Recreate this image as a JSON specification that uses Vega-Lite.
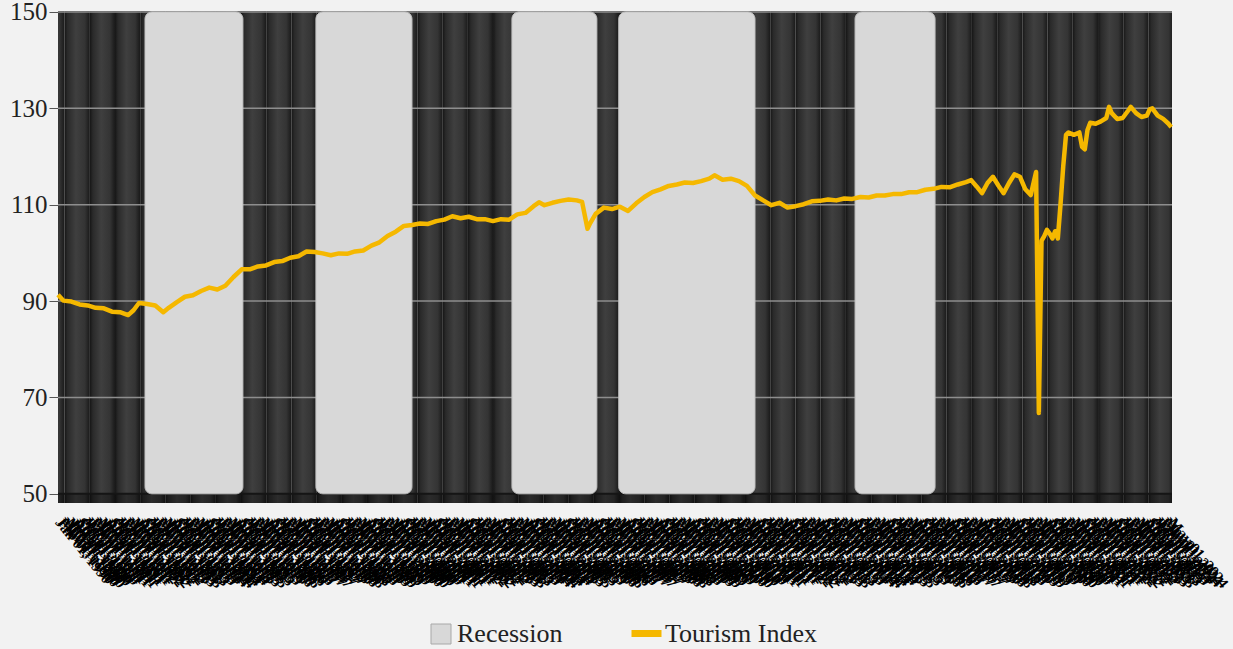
{
  "$schema": "https://vega.github.io/schema/vega-lite/v6.json",
  "width": 1114,
  "height": 492,
  "autosize": {"type": "none"},
  "padding": {"left": 58, "top": 11, "right": 61, "bottom": 146},
  "background": "#f2f2f2",
  "config": {
    "view": {"stroke": null},
    "axis": {"grid": false, "domain": false, "title": null}
  },
  "datasets": {
    "stripes": [
      {"a": "1989-06-06", "b": "1990-03-16"}, {"a": "1990-03-16", "b": "1990-12-26"},
      {"a": "1990-12-26", "b": "1991-10-05"}, {"a": "1991-10-05", "b": "1992-07-15"},
      {"a": "1992-07-15", "b": "1993-04-25"}, {"a": "1993-04-25", "b": "1994-02-04"},
      {"a": "1994-02-04", "b": "1994-11-14"}, {"a": "1994-11-14", "b": "1995-08-24"},
      {"a": "1995-08-24", "b": "1996-06-04"}, {"a": "1996-06-04", "b": "1997-03-14"},
      {"a": "1997-03-14", "b": "1997-12-24"}, {"a": "1997-12-24", "b": "1998-10-04"},
      {"a": "1998-10-04", "b": "1999-07-13"}, {"a": "1999-07-13", "b": "2000-04-23"},
      {"a": "2000-04-23", "b": "2001-02-03"}, {"a": "2001-02-03", "b": "2001-11-13"},
      {"a": "2001-11-13", "b": "2002-08-23"}, {"a": "2002-08-23", "b": "2003-06-02"},
      {"a": "2003-06-02", "b": "2004-03-12"}, {"a": "2004-03-12", "b": "2004-12-22"},
      {"a": "2004-12-22", "b": "2005-10-02"}, {"a": "2005-10-02", "b": "2006-07-12"},
      {"a": "2006-07-12", "b": "2007-04-21"}, {"a": "2007-04-21", "b": "2008-02-01"},
      {"a": "2008-02-01", "b": "2008-11-11"}, {"a": "2008-11-11", "b": "2009-08-21"},
      {"a": "2009-08-21", "b": "2010-06-01"}, {"a": "2010-06-01", "b": "2011-03-10"},
      {"a": "2011-03-10", "b": "2011-12-20"}, {"a": "2011-12-20", "b": "2012-09-30"},
      {"a": "2012-09-30", "b": "2013-07-10"}, {"a": "2013-07-10", "b": "2014-04-20"},
      {"a": "2014-04-20", "b": "2015-01-30"}, {"a": "2015-01-30", "b": "2015-11-09"},
      {"a": "2015-11-09", "b": "2016-08-19"}, {"a": "2016-08-19", "b": "2017-05-29"},
      {"a": "2017-05-29", "b": "2018-03-09"}, {"a": "2018-03-09", "b": "2018-12-19"},
      {"a": "2018-12-19", "b": "2019-09-29"}, {"a": "2019-09-29", "b": "2020-07-08"},
      {"a": "2020-07-08", "b": "2021-04-18"}, {"a": "2021-04-18", "b": "2022-01-28"},
      {"a": "2022-01-28", "b": "2022-11-08"}, {"a": "2022-11-08", "b": "2023-08-18"},
      {"a": "2023-08-18", "b": "2024-05-28"}
    ],
    "grid": [{"g": 70}, {"g": 90}, {"g": 110}, {"g": 130}, {"g": 150}],
    "base": [{"g": 50}],
    "recessions": [
      {"s": "1992-09-07", "e": "1995-09-15"},
      {"s": "1997-12-15", "e": "2000-12-01"},
      {"s": "2004-01-01", "e": "2006-08-15"},
      {"s": "2007-04-18", "e": "2011-07-01"},
      {"s": "2014-08-01", "e": "2017-01-18"}
    ],
    "index": [
      {"d": "1990-01-01", "v": 91.3}, {"d": "1990-03-01", "v": 90.1}, {"d": "1990-06-01", "v": 89.9},
      {"d": "1990-09-01", "v": 89.3}, {"d": "1990-12-01", "v": 89.1}, {"d": "1991-03-01", "v": 88.6},
      {"d": "1991-06-01", "v": 88.5}, {"d": "1991-09-01", "v": 87.8}, {"d": "1991-12-01", "v": 87.7},
      {"d": "1992-03-01", "v": 87.1}, {"d": "1992-05-01", "v": 88.1}, {"d": "1992-07-01", "v": 89.6},
      {"d": "1992-10-01", "v": 89.4}, {"d": "1993-01-01", "v": 89.1}, {"d": "1993-04-01", "v": 87.7},
      {"d": "1993-06-01", "v": 88.6}, {"d": "1993-09-01", "v": 89.8}, {"d": "1993-12-01", "v": 90.9},
      {"d": "1994-03-01", "v": 91.2}, {"d": "1994-06-01", "v": 92.1}, {"d": "1994-09-01", "v": 92.8},
      {"d": "1994-12-01", "v": 92.4}, {"d": "1995-03-01", "v": 93.2}, {"d": "1995-06-01", "v": 95.0},
      {"d": "1995-09-01", "v": 96.6}, {"d": "1995-12-01", "v": 96.6}, {"d": "1996-03-01", "v": 97.2},
      {"d": "1996-06-01", "v": 97.4}, {"d": "1996-09-01", "v": 98.1}, {"d": "1996-12-01", "v": 98.3},
      {"d": "1997-03-01", "v": 99.0}, {"d": "1997-06-01", "v": 99.3}, {"d": "1997-09-01", "v": 100.3},
      {"d": "1997-12-01", "v": 100.2}, {"d": "1998-03-01", "v": 99.9}, {"d": "1998-06-01", "v": 99.5},
      {"d": "1998-09-01", "v": 99.9}, {"d": "1998-12-01", "v": 99.8}, {"d": "1999-03-01", "v": 100.3},
      {"d": "1999-06-01", "v": 100.5}, {"d": "1999-09-01", "v": 101.5}, {"d": "1999-12-01", "v": 102.2},
      {"d": "2000-03-01", "v": 103.5}, {"d": "2000-06-01", "v": 104.4}, {"d": "2000-09-01", "v": 105.6},
      {"d": "2000-12-01", "v": 105.8}, {"d": "2001-03-01", "v": 106.1}, {"d": "2001-06-01", "v": 106.0},
      {"d": "2001-09-01", "v": 106.6}, {"d": "2001-12-01", "v": 106.9}, {"d": "2002-03-01", "v": 107.6},
      {"d": "2002-06-01", "v": 107.2}, {"d": "2002-09-01", "v": 107.5}, {"d": "2002-12-01", "v": 107.0},
      {"d": "2003-03-01", "v": 107.0}, {"d": "2003-06-01", "v": 106.6}, {"d": "2003-09-01", "v": 107.0},
      {"d": "2003-12-01", "v": 106.9}, {"d": "2004-03-01", "v": 108.0}, {"d": "2004-06-01", "v": 108.3},
      {"d": "2004-09-01", "v": 109.7}, {"d": "2004-11-01", "v": 110.5}, {"d": "2005-01-01", "v": 109.9},
      {"d": "2005-04-01", "v": 110.4}, {"d": "2005-07-01", "v": 110.8}, {"d": "2005-10-01", "v": 111.1},
      {"d": "2006-01-01", "v": 110.9}, {"d": "2006-03-01", "v": 110.6}, {"d": "2006-05-01", "v": 105.0},
      {"d": "2006-06-01", "v": 106.2}, {"d": "2006-08-01", "v": 108.1}, {"d": "2006-11-01", "v": 109.4},
      {"d": "2007-02-01", "v": 109.1}, {"d": "2007-05-01", "v": 109.6}, {"d": "2007-08-01", "v": 108.7},
      {"d": "2007-11-01", "v": 110.3}, {"d": "2008-02-01", "v": 111.6}, {"d": "2008-05-01", "v": 112.6},
      {"d": "2008-08-01", "v": 113.2}, {"d": "2008-11-01", "v": 113.9}, {"d": "2009-02-01", "v": 114.2},
      {"d": "2009-05-01", "v": 114.6}, {"d": "2009-08-01", "v": 114.5}, {"d": "2009-11-01", "v": 114.9},
      {"d": "2010-02-01", "v": 115.4}, {"d": "2010-04-01", "v": 116.1}, {"d": "2010-07-01", "v": 115.2},
      {"d": "2010-10-01", "v": 115.4}, {"d": "2011-01-01", "v": 114.9}, {"d": "2011-04-01", "v": 113.9},
      {"d": "2011-07-01", "v": 111.9}, {"d": "2011-10-01", "v": 110.9}, {"d": "2012-01-01", "v": 109.9},
      {"d": "2012-04-01", "v": 110.4}, {"d": "2012-07-01", "v": 109.4}, {"d": "2012-10-01", "v": 109.7},
      {"d": "2013-01-01", "v": 110.1}, {"d": "2013-04-01", "v": 110.7}, {"d": "2013-07-01", "v": 110.8},
      {"d": "2013-10-01", "v": 111.1}, {"d": "2014-01-01", "v": 110.9}, {"d": "2014-04-01", "v": 111.3},
      {"d": "2014-07-01", "v": 111.2}, {"d": "2014-10-01", "v": 111.6}, {"d": "2015-01-01", "v": 111.5},
      {"d": "2015-04-01", "v": 111.9}, {"d": "2015-07-01", "v": 111.9}, {"d": "2015-10-01", "v": 112.2},
      {"d": "2016-01-01", "v": 112.2}, {"d": "2016-04-01", "v": 112.6}, {"d": "2016-07-01", "v": 112.6},
      {"d": "2016-10-01", "v": 113.1}, {"d": "2017-01-01", "v": 113.3}, {"d": "2017-04-01", "v": 113.7},
      {"d": "2017-07-01", "v": 113.6}, {"d": "2017-10-01", "v": 114.2}, {"d": "2018-01-01", "v": 114.7},
      {"d": "2018-03-01", "v": 115.1}, {"d": "2018-05-01", "v": 113.8}, {"d": "2018-07-01", "v": 112.4},
      {"d": "2018-09-01", "v": 114.5}, {"d": "2018-11-01", "v": 115.8}, {"d": "2019-01-01", "v": 114.0},
      {"d": "2019-03-01", "v": 112.4}, {"d": "2019-05-01", "v": 114.5}, {"d": "2019-07-01", "v": 116.3},
      {"d": "2019-09-01", "v": 115.8}, {"d": "2019-11-01", "v": 113.2}, {"d": "2020-01-01", "v": 112.0},
      {"d": "2020-03-01", "v": 116.8}, {"d": "2020-04-01", "v": 66.8}, {"d": "2020-05-01", "v": 102.5},
      {"d": "2020-06-01", "v": 103.5}, {"d": "2020-07-01", "v": 104.8}, {"d": "2020-08-01", "v": 104.0},
      {"d": "2020-09-01", "v": 103.0}, {"d": "2020-10-01", "v": 104.5}, {"d": "2020-11-01", "v": 103.0},
      {"d": "2020-12-01", "v": 110.0}, {"d": "2021-01-01", "v": 118.0}, {"d": "2021-02-01", "v": 124.5},
      {"d": "2021-03-01", "v": 125.0}, {"d": "2021-05-01", "v": 124.5}, {"d": "2021-07-01", "v": 125.0},
      {"d": "2021-08-01", "v": 122.0}, {"d": "2021-09-01", "v": 121.5}, {"d": "2021-10-01", "v": 125.5},
      {"d": "2021-11-01", "v": 127.0}, {"d": "2022-01-01", "v": 126.8}, {"d": "2022-03-01", "v": 127.3},
      {"d": "2022-05-01", "v": 128.0}, {"d": "2022-06-01", "v": 130.3}, {"d": "2022-07-01", "v": 129.0},
      {"d": "2022-09-01", "v": 127.8}, {"d": "2022-11-01", "v": 128.0}, {"d": "2023-01-01", "v": 129.5},
      {"d": "2023-02-01", "v": 130.3}, {"d": "2023-04-01", "v": 129.0}, {"d": "2023-06-01", "v": 128.2},
      {"d": "2023-08-01", "v": 128.5}, {"d": "2023-09-01", "v": 129.8}, {"d": "2023-10-01", "v": 130.0},
      {"d": "2023-12-01", "v": 128.5}, {"d": "2024-02-01", "v": 127.8}, {"d": "2024-04-01", "v": 126.8},
      {"d": "2024-05-01", "v": 126.1}
    ]
  },
  "layer": [
    {
      "data": {"name": "stripes"},
      "mark": {
        "type": "bar",
        "clip": true,
        "fill": {
          "gradient": "linear", "x1": 0, "y1": 0, "x2": 1, "y2": 0,
          "stops": [
            {"offset": 0, "color": "#161616"},
            {"offset": 0.12, "color": "#2a2a2a"},
            {"offset": 0.45, "color": "#3f3f3f"},
            {"offset": 0.8, "color": "#343434"},
            {"offset": 1, "color": "#191919"}
          ]
        }
      },
      "encoding": {
        "x": {
          "field": "a", "type": "temporal",
          "scale": {"domain": [{"year": 1990, "month": 1, "date": 1}, {"year": 2024, "month": 5, "date": 10}]},
          "axis": {
            "tickCount": {"interval": "month", "step": 1},
            "format": "%b %d, %Y",
            "labelAngle": 51,
            "labelAlign": "left",
            "labelBaseline": "middle",
            "labelOverlap": false,
            "labelFlush": false,
            "labelBound": false,
            "labelFont": "Liberation Serif",
            "labelFontSize": 15,
            "labelFontWeight": "bold",
            "labelColor": "#000000",
            "ticks": false,
            "labelPadding": 16
          }
        },
        "x2": {"field": "b"},
        "y": {
          "datum": 48.1, "type": "quantitative",
          "scale": {"domain": [48.1, 150.2], "nice": false, "zero": false},
          "axis": {
            "values": [50, 70, 90, 110, 130, 150],
            "labelFont": "Liberation Serif",
            "labelFontSize": 25,
            "labelColor": "#222222",
            "tickColor": "#555555",
            "tickSize": 9,
            "labelPadding": 2
          }
        },
        "y2": {"datum": 150.2}
      }
    },
    {
      "data": {"name": "grid"},
      "mark": {"type": "rule", "color": "#8e8e8e", "strokeWidth": 1.5},
      "encoding": {
        "y": {"field": "g", "type": "quantitative"}
      }
    },
    {
      "data": {"name": "base"},
      "mark": {"type": "rule", "color": "#000000", "strokeWidth": 9, "opacity": 0.3},
      "encoding": {"y": {"datum": 49.05, "type": "quantitative"}}
    },
    {
      "data": {"name": "base"},
      "mark": {"type": "rule", "color": "#151515", "strokeWidth": 2},
      "encoding": {"y": {"field": "g", "type": "quantitative"}}
    },
    {
      "data": {"name": "recessions"},
      "mark": {"type": "bar", "stroke": "#c2c2c2", "strokeWidth": 1, "cornerRadius": 7},
      "encoding": {
        "x": {"field": "s", "type": "temporal"},
        "x2": {"field": "e"},
        "y": {"datum": 50, "type": "quantitative"},
        "y2": {"datum": 150},
        "fill": {
          "datum": "Recession", "type": "nominal",
          "scale": {"domain": ["Recession"], "range": ["#d8d8d8"]},
          "legend": {
            "title": null,
            "orient": "none",
            "legendX": 370,
            "legendY": 610,
            "padding": 0,
            "labelFont": "Liberation Serif",
            "labelFontSize": 26,
            "labelColor": "#222222",
            "symbolType": "square",
            "symbolSize": 400,
            "symbolStrokeColor": "#a8a8a8",
            "symbolStrokeWidth": 1,
            "labelOffset": 3
          }
        }
      }
    },
    {
      "data": {"name": "index"},
      "mark": {"type": "line", "strokeWidth": 4.5, "strokeJoin": "round"},
      "encoding": {
        "x": {"field": "d", "type": "temporal"},
        "y": {"field": "v", "type": "quantitative"},
        "stroke": {
          "datum": "Tourism Index", "type": "nominal",
          "scale": {"domain": ["Tourism Index"], "range": ["#f5b800"]},
          "legend": {
            "title": null,
            "orient": "none",
            "legendX": 570,
            "legendY": 604,
            "padding": 0,
            "labelFont": "Liberation Serif",
            "labelFontSize": 26,
            "labelColor": "#222222",
            "symbolType": "stroke",
            "symbolSize": 900,
            "symbolStrokeWidth": 7,
            "labelOffset": 0
          }
        }
      }
    }
  ]
}
